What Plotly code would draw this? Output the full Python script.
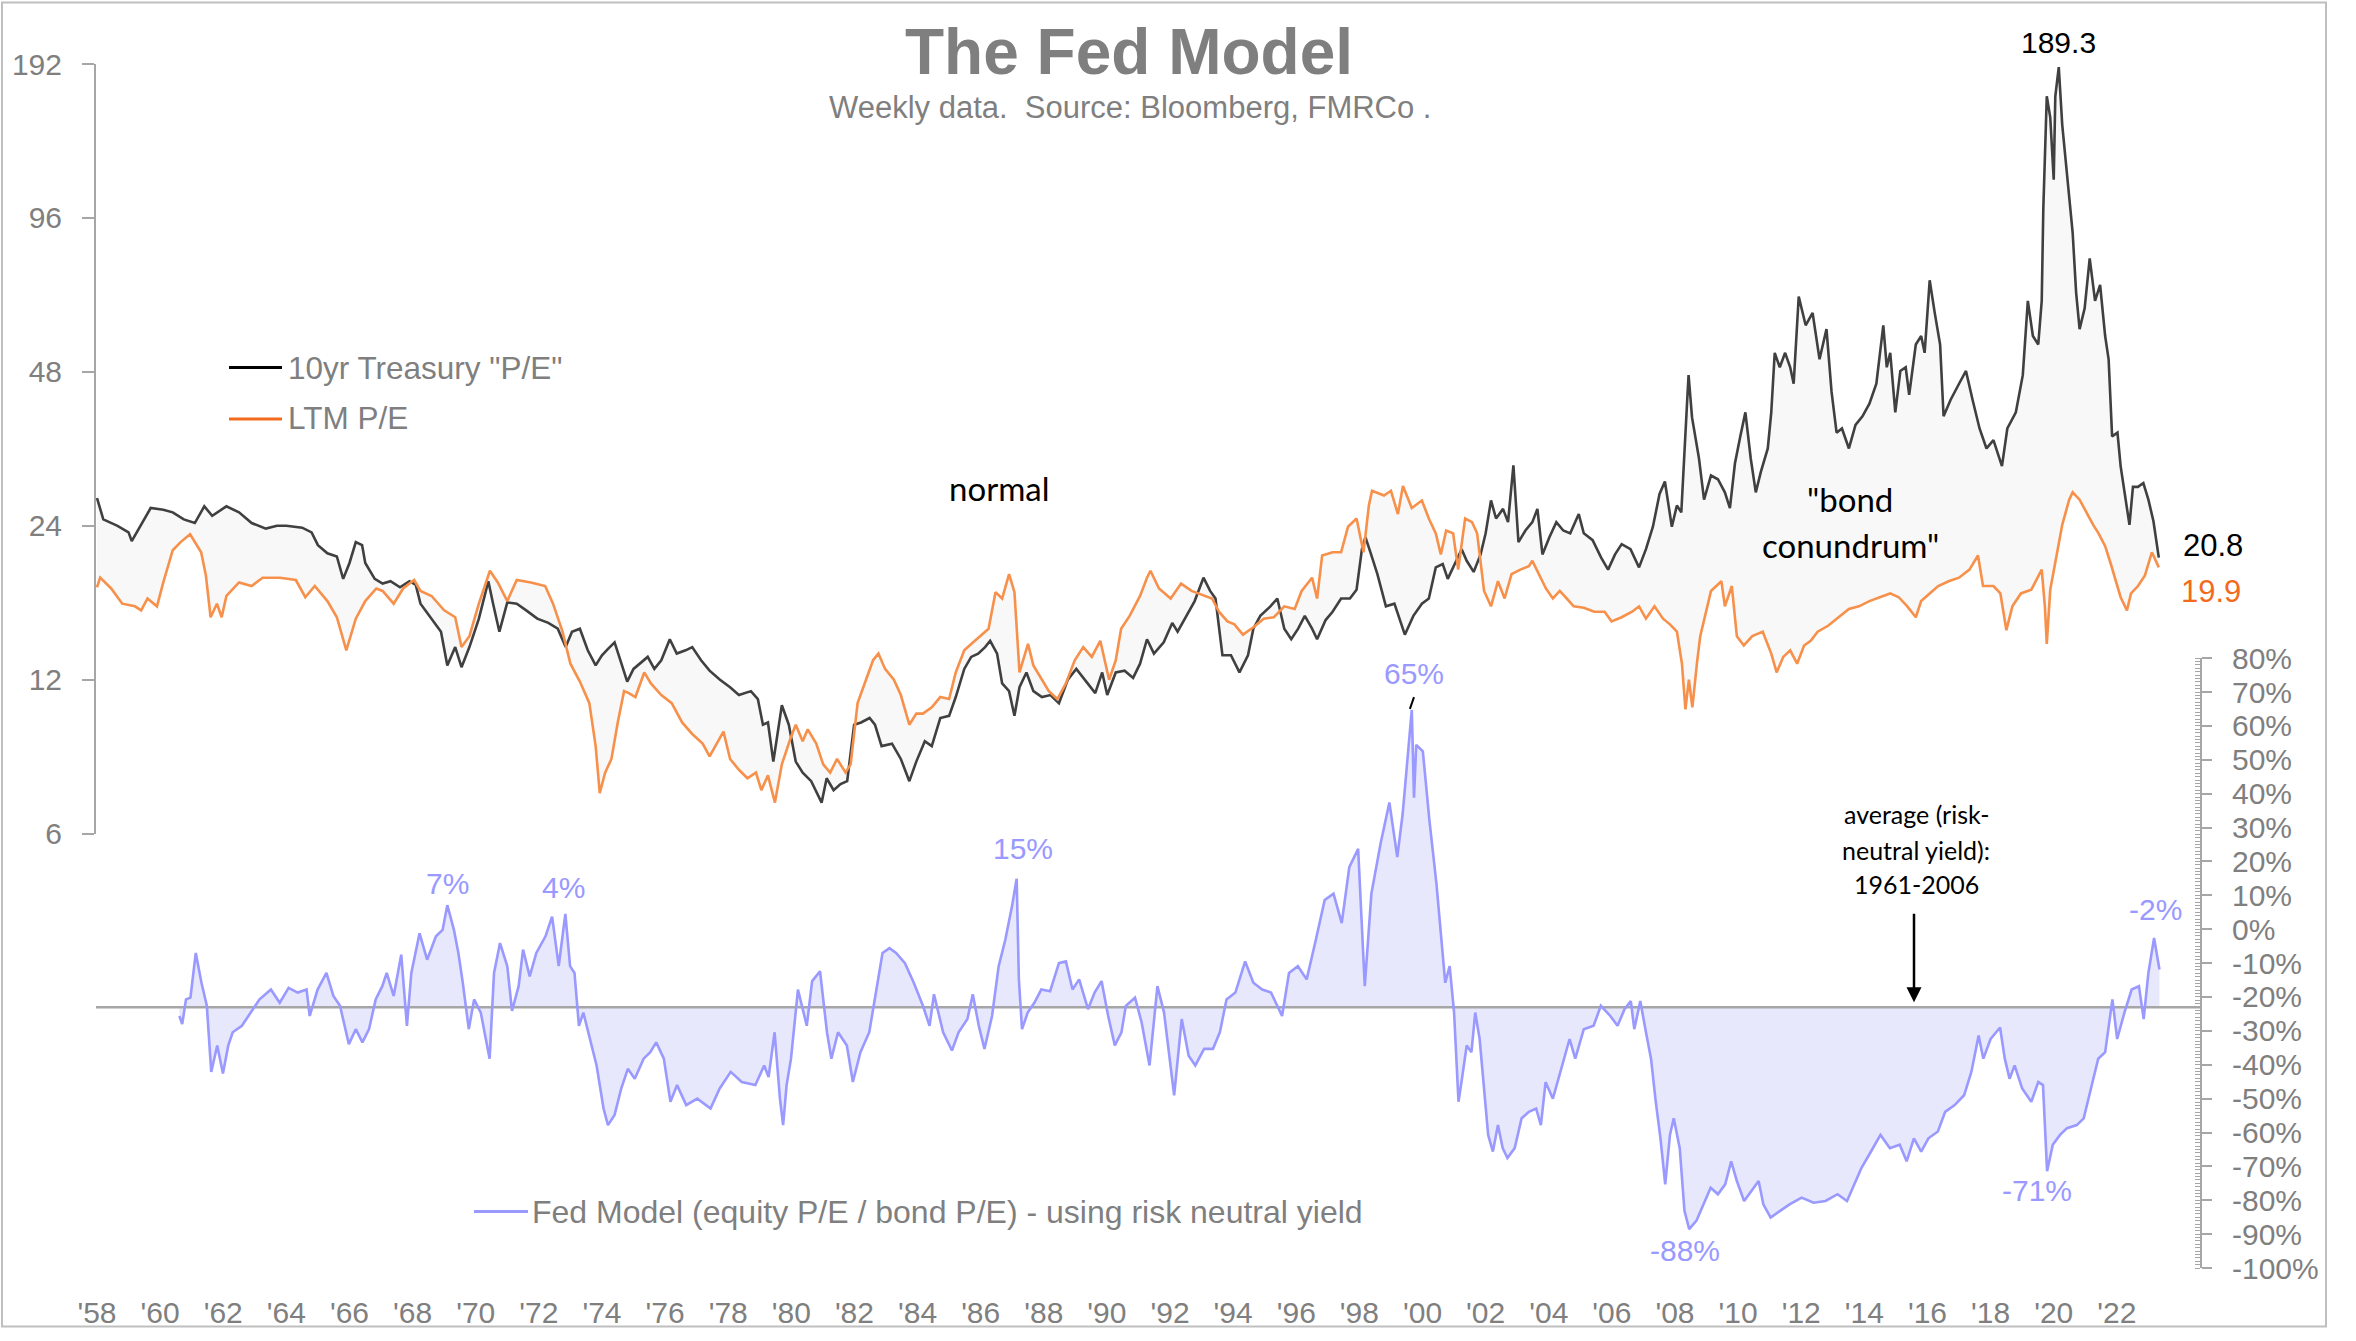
import math

import plotly.graph_objects as go

"""The Fed Model: 10yr Treasury "P/E" vs LTM P/E, plus the Fed Model spread"""

# 10yr Treasury "P/E" (1 / yield)
tsy_years = [
    1958.0, 1958.2, 1958.65, 1959.0, 1959.1, 1959.4, 1959.7, 1960.1, 1960.4, 1960.75,
    1961.1, 1961.4, 1961.65, 1962.1, 1962.5, 1962.9, 1963.35, 1963.7, 1964.0, 1964.5,
    1964.8, 1965.0, 1965.3, 1965.6, 1965.8, 1966.0, 1966.2, 1966.4, 1966.5, 1966.8,
    1967.05, 1967.3, 1967.6, 1967.9, 1968.1, 1968.25, 1968.6, 1968.9, 1969.1, 1969.35,
    1969.55, 1969.8, 1970.1, 1970.4, 1970.55, 1970.75, 1971.0, 1971.3, 1971.6, 1971.95,
    1972.3, 1972.6, 1972.85, 1973.05, 1973.3, 1973.55, 1973.8, 1974.0, 1974.2, 1974.4,
    1974.6, 1974.8, 1975.0, 1975.2, 1975.45, 1975.66, 1975.88, 1976.15, 1976.37, 1976.65,
    1976.86, 1977.14, 1977.41, 1977.74, 1978.06, 1978.34, 1978.72, 1978.94, 1979.1, 1979.26,
    1979.43, 1979.7, 1979.92, 1980.14, 1980.36, 1980.63, 1980.96, 1981.12, 1981.34, 1981.56,
    1981.77, 1981.99, 1982.21, 1982.48, 1982.65, 1982.86, 1983.19, 1983.47, 1983.74, 1983.96,
    1984.23, 1984.45, 1984.72, 1985.0, 1985.21, 1985.48, 1985.7, 1985.92, 1986.14, 1986.3,
    1986.52, 1986.68, 1986.9, 1987.07, 1987.23, 1987.45, 1987.67, 1987.94, 1988.21, 1988.48,
    1988.76, 1989.03, 1989.3, 1989.63, 1989.85, 1990.01, 1990.28, 1990.56, 1990.83, 1991.05,
    1991.27, 1991.49, 1991.8, 1992.07, 1992.24, 1992.51, 1992.78, 1993.06, 1993.27, 1993.44,
    1993.66, 1993.93, 1994.2, 1994.47, 1994.64, 1994.86, 1995.18, 1995.4, 1995.62, 1995.84,
    1996.06, 1996.27, 1996.5, 1996.66, 1996.93, 1997.15, 1997.42, 1997.7, 1997.91, 1998.08,
    1998.19, 1998.35, 1998.57, 1998.84, 1999.11, 1999.44, 1999.71, 1999.98, 2000.2, 2000.42,
    2000.64, 2000.8, 2000.97, 2001.24, 2001.4, 2001.62, 2001.84, 2002.0, 2002.17, 2002.33,
    2002.55, 2002.71, 2002.88, 2003.04, 2003.26, 2003.48, 2003.64, 2003.8, 2004.02, 2004.24,
    2004.46, 2004.68, 2004.95, 2005.11, 2005.39, 2005.66, 2005.88, 2006.1, 2006.31, 2006.59,
    2006.86, 2007.08, 2007.3, 2007.51, 2007.68, 2007.9, 2008.06, 2008.2, 2008.38, 2008.43,
    2008.54, 2008.65, 2008.76, 2008.92, 2009.14, 2009.36, 2009.58, 2009.74, 2009.9, 2010.07,
    2010.23, 2010.4, 2010.56, 2010.72, 2010.94, 2011.05, 2011.16, 2011.32, 2011.49, 2011.65,
    2011.76, 2011.92, 2012.14, 2012.36, 2012.58, 2012.8, 2012.96, 2013.12, 2013.29, 2013.51,
    2013.72, 2013.94, 2014.16, 2014.38, 2014.6, 2014.71, 2014.82, 2014.98, 2015.14, 2015.31,
    2015.42, 2015.63, 2015.8, 2015.91, 2016.07, 2016.23, 2016.4, 2016.51, 2016.73, 2017.0,
    2017.22, 2017.43, 2017.65, 2017.87, 2018.09, 2018.36, 2018.53, 2018.8, 2019.02, 2019.18,
    2019.34, 2019.51, 2019.62, 2019.67, 2019.78, 2019.89, 2020.0, 2020.05, 2020.16, 2020.27,
    2020.38, 2020.49, 2020.6, 2020.71, 2020.82, 2020.98, 2021.14, 2021.31, 2021.47, 2021.63,
    2021.74, 2021.85, 2022.02, 2022.12, 2022.29, 2022.4, 2022.51, 2022.67, 2022.84, 2023.0,
    2023.16, 2023.33,
]
tsy_pe = [
    27.2, 24.7, 24.0, 23.3, 22.4, 24.2, 26.0, 25.8, 25.5, 24.7,
    24.3, 26.2, 25.1, 26.2, 25.5, 24.3, 23.7, 24.0, 24.0, 23.8,
    23.3, 22.0, 21.2, 20.9, 18.9, 20.3, 22.3, 22.0, 20.3, 18.9,
    18.5, 18.7, 18.2, 18.7, 18.4, 16.9, 15.8, 14.9, 12.8, 13.9,
    12.7, 13.9, 15.8, 18.7, 16.9, 14.9, 17.0, 16.9, 16.4, 15.8,
    15.5, 15.1, 13.9, 14.9, 15.1, 13.7, 12.8, 13.4, 13.8, 14.2,
    13.0, 11.9, 12.6, 12.9, 13.3, 12.6, 13.1, 14.4, 13.5, 13.7,
    13.9, 13.1, 12.5, 12.0, 11.6, 11.2, 11.4, 11.0, 9.8, 9.9,
    8.3, 10.7, 9.8, 8.3, 7.9, 7.6, 6.9, 7.7, 7.3, 7.5,
    7.6, 9.8, 9.9, 10.1, 9.8, 8.9, 9.0, 8.4, 7.6, 8.3,
    9.1, 8.9, 10.1, 10.2, 11.1, 12.6, 13.3, 13.5, 13.9, 14.3,
    13.5, 11.8, 11.4, 10.2, 11.6, 12.4, 11.4, 11.1, 11.2, 10.8,
    12.0, 12.6, 12.0, 11.3, 12.4, 11.2, 12.4, 12.5, 12.1, 12.9,
    14.4, 13.5, 14.2, 15.5, 14.9, 16.0, 17.1, 19.0, 17.9, 17.3,
    13.4, 13.4, 12.4, 13.4, 15.1, 16.0, 16.7, 17.3, 15.1, 14.4,
    15.1, 16.0, 15.1, 14.4, 15.7, 16.3, 17.3, 17.3, 18.0, 21.6,
    22.8, 21.3, 19.3, 16.7, 16.9, 14.7, 16.0, 16.9, 17.3, 19.9,
    20.2, 18.9, 19.9, 21.6, 20.5, 19.5, 21.1, 23.2, 26.9, 24.8,
    25.9, 24.4, 31.5, 22.3, 23.5, 24.4, 25.9, 21.1, 22.8, 24.4,
    23.5, 23.2, 25.3, 23.2, 22.5, 20.8, 19.7, 21.1, 22.1, 21.6,
    19.9, 21.6, 23.9, 27.7, 29.3, 23.9, 26.3, 25.5, 41.5, 47.3,
    39.1, 35.3, 32.5, 27.0, 30.1, 29.6, 27.9, 26.0, 31.8, 35.9,
    40.0, 32.5, 27.9, 30.6, 34.0, 40.0, 52.3, 49.0, 52.3, 49.0,
    45.5, 67.4, 59.2, 62.6, 50.8, 58.2, 43.9, 36.5, 37.2, 34.0,
    37.8, 39.3, 41.6, 45.5, 59.2, 49.0, 52.3, 40.0, 48.2, 49.0,
    43.3, 54.3, 56.4, 52.3, 72.5, 62.6, 54.3, 39.3, 42.3, 45.5,
    48.2, 42.3, 37.2, 34.0, 35.3, 31.4, 37.2, 40.0, 47.3, 66.1,
    56.4, 54.3, 66.1, 100.0, 166.0, 151.0, 114.0, 166.0, 189.3, 146.0,
    124.0, 108.0, 89.8, 68.6, 58.2, 63.9, 80.0, 66.1, 71.0, 56.4,
    50.8, 35.9, 36.5, 31.4, 27.0, 24.1, 28.6, 28.6, 29.1, 27.0,
    24.5, 20.8,
]

# S&P 500 trailing-twelve-month P/E
ltm_years = [
    1958.0, 1958.1, 1958.45, 1958.8, 1959.2, 1959.4, 1959.6, 1959.9, 1960.1, 1960.4,
    1960.65, 1960.95, 1961.3, 1961.45, 1961.6, 1961.8, 1961.95, 1962.1, 1962.5, 1962.9,
    1963.25, 1963.8, 1964.3, 1964.6, 1964.9, 1965.3, 1965.6, 1965.9, 1966.2, 1966.5,
    1966.85, 1967.05, 1967.4, 1967.7, 1968.05, 1968.25, 1968.6, 1969.0, 1969.35, 1969.55,
    1969.8, 1970.1, 1970.45, 1970.7, 1971.0, 1971.3, 1971.75, 1972.2, 1972.45, 1972.75,
    1973.0, 1973.3, 1973.6, 1973.8, 1973.93, 1974.1, 1974.3, 1974.5, 1974.7, 1974.85,
    1975.06, 1975.34, 1975.55, 1975.88, 1976.21, 1976.54, 1976.86, 1977.19, 1977.41, 1977.63,
    1977.85, 1978.06, 1978.34, 1978.61, 1978.88, 1979.05, 1979.26, 1979.48, 1979.7, 1979.97,
    1980.14, 1980.36, 1980.52, 1980.79, 1981.01, 1981.23, 1981.45, 1981.72, 1981.88, 1982.1,
    1982.32, 1982.59, 1982.76, 1982.97, 1983.25, 1983.47, 1983.74, 1983.96, 1984.17, 1984.45,
    1984.72, 1985.0, 1985.21, 1985.48, 1985.7, 1985.97, 1986.25, 1986.47, 1986.68, 1986.9,
    1987.07, 1987.23, 1987.5, 1987.67, 1987.94, 1988.16, 1988.43, 1988.7, 1988.98, 1989.25,
    1989.52, 1989.79, 1990.07, 1990.28, 1990.45, 1990.72, 1991.05, 1991.27, 1991.38, 1991.65,
    1992.02, 1992.35, 1992.68, 1993.0, 1993.33, 1993.55, 1993.82, 1994.04, 1994.31, 1994.64,
    1994.97, 1995.29, 1995.62, 1995.95, 1996.17, 1996.5, 1996.66, 1996.82, 1997.15, 1997.42,
    1997.64, 1997.91, 1998.13, 1998.3, 1998.4, 1998.78, 1999.0, 1999.22, 1999.38, 1999.66,
    1999.98, 2000.2, 2000.42, 2000.58, 2000.75, 2000.97, 2001.13, 2001.35, 2001.57, 2001.73,
    2001.95, 2002.17, 2002.39, 2002.6, 2002.82, 2003.1, 2003.37, 2003.48, 2003.7, 2003.91,
    2004.13, 2004.35, 2004.57, 2004.79, 2005.11, 2005.44, 2005.77, 2005.99, 2006.31, 2006.64,
    2006.86, 2007.08, 2007.35, 2007.62, 2007.84, 2008.06, 2008.22, 2008.33, 2008.44, 2008.55,
    2008.7, 2008.8, 2009.14, 2009.47, 2009.58, 2009.8, 2009.96, 2010.18, 2010.45, 2010.78,
    2011.05, 2011.22, 2011.43, 2011.65, 2011.87, 2012.09, 2012.3, 2012.52, 2012.85, 2013.18,
    2013.51, 2013.83, 2014.16, 2014.49, 2014.82, 2015.09, 2015.36, 2015.63, 2015.8, 2016.07,
    2016.34, 2016.67, 2017.0, 2017.33, 2017.6, 2017.76, 2018.09, 2018.31, 2018.5, 2018.69,
    2018.96, 2019.29, 2019.62, 2019.72, 2019.78, 2019.89, 2020.05, 2020.27, 2020.49, 2020.6,
    2020.82, 2021.03, 2021.25, 2021.42, 2021.63, 2021.8, 2021.96, 2022.12, 2022.32, 2022.45,
    2022.67, 2022.89, 2023.11, 2023.33,
]
ltm_pe = [
    18.2, 19.0, 18.1, 16.9, 16.7, 16.4, 17.3, 16.7, 18.6, 21.5,
    22.3, 23.1, 21.3, 19.2, 15.9, 16.9, 15.9, 17.5, 18.6, 18.3,
    19.0, 19.0, 18.8, 17.4, 18.3, 17.1, 15.9, 13.7, 15.8, 17.1,
    18.1, 17.9, 16.9, 18.1, 18.8, 17.9, 17.5, 16.4, 15.9, 13.9,
    14.6, 16.9, 19.6, 18.6, 17.1, 18.8, 18.6, 18.3, 16.9, 14.9,
    12.9, 11.9, 10.8, 8.9, 7.2, 7.9, 8.4, 9.9, 11.4, 11.3,
    11.1, 12.4, 11.8, 11.2, 10.8, 9.9, 9.4, 9.0, 8.5, 9.0,
    9.5, 8.4, 8.0, 7.7, 7.9, 7.3, 7.8, 6.9, 8.2, 9.2,
    9.8, 9.1, 9.6, 9.0, 8.2, 7.9, 8.4, 7.9, 8.2, 10.8,
    11.8, 13.1, 13.5, 12.6, 12.0, 11.2, 9.8, 10.3, 10.3, 10.6,
    11.1, 11.0, 12.4, 13.7, 14.1, 14.6, 15.1, 17.8, 17.3, 19.3,
    17.8, 12.4, 14.1, 12.8, 12.0, 11.4, 11.0, 11.8, 13.1, 13.9,
    13.3, 14.3, 12.0, 13.1, 15.1, 16.0, 17.5, 19.0, 19.6, 18.1,
    17.3, 18.5, 17.9, 17.6, 17.3, 16.3, 15.6, 15.4, 14.7, 15.2,
    15.8, 15.9, 16.7, 16.5, 17.9, 19.0, 17.3, 21.0, 21.3, 21.3,
    23.9, 24.8, 21.3, 26.3, 28.1, 27.5, 28.1, 25.3, 28.7, 26.0,
    26.9, 24.8, 23.2, 21.1, 23.5, 23.2, 19.7, 24.8, 24.4, 23.2,
    17.9, 16.7, 18.7, 17.3, 19.3, 19.7, 20.0, 20.5, 19.3, 18.1,
    17.3, 17.9, 17.3, 16.7, 16.6, 16.3, 16.3, 15.6, 15.9, 16.3,
    16.7, 15.8, 16.7, 15.8, 15.4, 14.9, 12.9, 10.5, 12.0, 10.6,
    13.0, 14.6, 17.9, 18.7, 16.7, 18.3, 14.6, 14.0, 14.6, 14.9,
    13.5, 12.4, 13.3, 13.7, 12.9, 14.0, 14.3, 14.9, 15.3, 15.9,
    16.5, 16.7, 17.1, 17.4, 17.7, 17.4, 16.7, 15.9, 17.1, 17.7,
    18.3, 18.7, 19.0, 19.7, 21.0, 18.3, 18.3, 17.7, 15.0, 16.7,
    17.7, 18.0, 19.7, 16.7, 14.1, 18.0, 20.4, 24.1, 27.0, 27.9,
    27.0, 25.5, 24.1, 23.2, 21.9, 20.3, 18.7, 17.4, 16.4, 17.7,
    18.3, 19.2, 21.3, 19.9,
]

# Fed Model (equity P/E / bond P/E) - using risk neutral yield, in %
fed_years = [
    1960.61, 1960.7, 1960.82, 1960.96, 1961.13, 1961.31, 1961.48, 1961.62, 1961.81, 1961.99,
    1962.16, 1962.3, 1962.59, 1962.87, 1963.15, 1963.51, 1963.79, 1964.07, 1964.36, 1964.64,
    1964.74, 1964.99, 1965.27, 1965.49, 1965.7, 1965.98, 1966.2, 1966.41, 1966.62, 1966.83,
    1967.04, 1967.18, 1967.4, 1967.64, 1967.82, 1967.96, 1968.22, 1968.46, 1968.74, 1968.95,
    1969.1, 1969.31, 1969.45, 1969.59, 1969.78, 1969.95, 1970.16, 1970.44, 1970.58, 1970.77,
    1971.0, 1971.15, 1971.36, 1971.5, 1971.71, 1971.92, 1972.21, 1972.42, 1972.63, 1972.84,
    1972.99, 1973.13, 1973.27, 1973.41, 1973.62, 1973.83, 1974.05, 1974.19, 1974.4, 1974.61,
    1974.82, 1975.04, 1975.32, 1975.53, 1975.72, 1975.96, 1976.17, 1976.38, 1976.67, 1977.02,
    1977.44, 1977.73, 1978.08, 1978.43, 1978.86, 1979.14, 1979.28, 1979.47, 1979.64, 1979.74,
    1979.85, 1979.99, 1980.21, 1980.49, 1980.66, 1980.91, 1981.13, 1981.27, 1981.48, 1981.76,
    1981.95, 1982.19, 1982.47, 1982.68, 1982.89, 1983.11, 1983.32, 1983.6, 1983.88, 1984.17,
    1984.38, 1984.52, 1984.81, 1985.09, 1985.3, 1985.58, 1985.75, 1985.94, 1986.12, 1986.36,
    1986.57, 1986.78, 1986.99, 1987.14, 1987.21, 1987.31, 1987.49, 1987.7, 1987.92, 1988.2,
    1988.48, 1988.7, 1988.91, 1989.12, 1989.4, 1989.61, 1989.83, 1990.04, 1990.25, 1990.46,
    1990.6, 1990.89, 1991.1, 1991.35, 1991.6, 1991.81, 1992.13, 1992.37, 1992.59, 1992.8,
    1993.08, 1993.36, 1993.58, 1993.79, 1994.07, 1994.38, 1994.64, 1994.92, 1995.2, 1995.55,
    1995.77, 1996.05, 1996.33, 1996.62, 1996.9, 1997.18, 1997.44, 1997.68, 1997.96, 1998.17,
    1998.38, 1998.67, 1998.95, 1999.2, 1999.37, 1999.66, 1999.73, 1999.8, 2000.01, 2000.22,
    2000.44, 2000.72, 2000.86, 2001.0, 2001.14, 2001.25, 2001.4, 2001.55, 2001.67, 2001.81,
    2001.93, 2002.08, 2002.23, 2002.39, 2002.54, 2002.69, 2002.92, 2003.14, 2003.37, 2003.6,
    2003.75, 2003.9, 2004.13, 2004.36, 2004.66, 2004.84, 2005.11, 2005.42, 2005.65, 2005.95,
    2006.18, 2006.4, 2006.6, 2006.71, 2006.9, 2007.08, 2007.24, 2007.39, 2007.54, 2007.69,
    2007.84, 2007.96, 2008.15, 2008.3, 2008.45, 2008.68, 2008.9, 2009.13, 2009.36, 2009.59,
    2009.78, 2009.96, 2010.19, 2010.42, 2010.65, 2010.8, 2011.03, 2011.33, 2011.63, 2012.01,
    2012.39, 2012.77, 2013.15, 2013.45, 2013.68, 2013.91, 2014.21, 2014.51, 2014.81, 2015.12,
    2015.34, 2015.57, 2015.8, 2016.03, 2016.33, 2016.56, 2016.86, 2017.16, 2017.39, 2017.62,
    2017.77, 2018.0, 2018.3, 2018.45, 2018.6, 2018.76, 2019.0, 2019.29, 2019.51, 2019.66,
    2019.79, 2019.97, 2020.2, 2020.42, 2020.73, 2020.95, 2021.18, 2021.41, 2021.63, 2021.86,
    2022.01, 2022.24, 2022.47, 2022.7, 2022.85, 2023.0, 2023.18, 2023.35,
]
fed_model = [
    -25.6, -28.0, -20.7, -20.2, -7.0, -15.8, -22.6, -42.1, -34.3, -42.6,
    -34.3, -30.4, -28.5, -24.6, -20.7, -17.8, -21.7, -17.3, -18.7, -17.8,
    -25.6, -17.8, -12.9, -19.7, -22.6, -33.9, -29.5, -33.4, -29.5, -20.7,
    -16.8, -12.9, -19.7, -7.5, -28.5, -12.9, -1.2, -9.0, -2.1, -0.2,
    7.1, -0.2, -7.0, -15.8, -29.5, -20.7, -24.6, -38.2, -12.9, -4.1,
    -10.9, -24.1, -16.8, -6.0, -13.9, -7.0, -2.1, 3.7, -10.9, 4.5,
    -10.9, -12.9, -28.5, -24.6, -32.4, -40.2, -52.9, -57.8, -54.8, -47.0,
    -41.2, -44.1, -38.2, -36.3, -33.4, -38.2, -50.9, -46.0, -51.9, -50.0,
    -52.9, -47.0, -42.1, -45.1, -46.0, -40.2, -43.6, -30.4, -50.0, -57.8,
    -46.0, -38.2, -17.8, -28.5, -15.3, -12.4, -30.4, -38.2, -30.4, -34.3,
    -45.1, -36.3, -30.4, -18.7, -7.0, -5.6, -7.0, -10.0, -15.8, -22.6,
    -28.5, -19.2, -30.4, -35.8, -30.4, -26.5, -19.2, -28.5, -35.3, -25.6,
    -10.9, -3.1, 6.6, 14.9, -14.8, -29.5, -24.6, -21.7, -17.8, -18.3,
    -10.0, -9.5, -17.8, -14.8, -23.6, -18.7, -15.3, -25.6, -34.3, -30.4,
    -22.6, -20.2, -27.5, -40.2, -16.8, -24.6, -49.0, -26.5, -37.3, -40.2,
    -35.3, -35.3, -30.4, -20.7, -18.7, -9.5, -15.8, -17.8, -18.7, -25.6,
    -12.9, -10.9, -14.8, -3.1, 8.6, 10.5, 1.8, 18.3, 23.7, -16.8,
    10.5, 25.2, 37.4, 21.3, 34.0, 64.7, 38.8, 54.4, 52.5, 32.0,
    13.5, -15.8, -10.9, -24.6, -50.9, -44.1, -34.3, -36.3, -24.6, -32.4,
    -44.1, -60.7, -65.6, -57.8, -64.6, -67.5, -64.6, -55.8, -53.9, -52.9,
    -57.8, -45.1, -50.0, -42.1, -32.4, -38.2, -29.5, -28.5, -22.6, -25.6,
    -28.5, -23.6, -21.2, -29.5, -21.2, -30.4, -38.2, -50.9, -61.7, -75.3,
    -60.7, -55.8, -64.6, -83.1, -88.5, -86.0, -81.2, -76.3, -78.2, -75.3,
    -68.5, -74.3, -80.2, -77.3, -74.3, -81.2, -85.1, -83.1, -81.2, -79.2,
    -80.7, -80.2, -78.2, -80.2, -75.3, -70.4, -65.6, -60.7, -64.6, -63.6,
    -68.5, -61.7, -65.6, -61.7, -59.7, -53.9, -51.9, -49.0, -42.1, -31.4,
    -38.2, -32.4, -29.0, -38.2, -44.1, -40.2, -47.0, -50.9, -45.1, -46.0,
    -71.4, -63.6, -60.7, -58.7, -57.8, -55.8, -47.0, -38.2, -36.3, -20.7,
    -32.4, -24.6, -17.8, -16.8, -26.5, -12.9, -2.6, -11.9,
]
fed_average = -23.0  # average (risk-neutral yield): 1961-2006

x_ticks = list(range(1958, 2023, 2))
x_labels = ["'%02d" % (y % 100) for y in x_ticks]
pe_ticks = [6, 12, 24, 48, 96, 192]
fed_ticks = list(range(-100, 81, 10))

# labelled extremes of the Fed Model: (year, text, pixel offsets)
fed_callouts = [
    (1969.1, "7%", 0, 22),
    (1972.84, "4%", -2, 26),
    (1987.14, "15%", 6, 30),
    (1999.66, "65%", 2, 36),
    (2008.45, "-88%", -4, -21),
    (2019.79, "-71%", -10, -19),
    (2023.18, "-2%", 1, 29),
]

GREY = "#7f7f7f"
AXIS = "#a6a6a6"
BLACK = "#404040"
ORANGE = "#f7904a"
PURPLE = "#9999ff"
ARIAL = "Liberation Sans, Arial, sans-serif"
CALIBRI = "Lato, Carlito, Calibri, sans-serif"

# plot area in pixels
L, T, R, B = 96, 64, 2200, 1290


def px(x):
    return (x - L) / (R - L)


def py(y):
    return (B - y) / (B - T)


def year_at(x):
    return 1958 + (x - 97) / 31.56


fig = go.Figure()

# grey band between the two P/E lines
fig.add_trace(go.Scatter(x=tsy_years, y=tsy_pe, mode="lines", line=dict(width=0),
                         showlegend=False, hoverinfo="skip"))
fig.add_trace(go.Scatter(x=ltm_years, y=ltm_pe, mode="lines", line=dict(width=0),
                         fill="tonexty", fillcolor="#f8f8f8", showlegend=False,
                         hoverinfo="skip"))
fig.add_trace(go.Scatter(x=tsy_years, y=tsy_pe, mode="lines", name='10yr Treasury "P/E"',
                         line=dict(color=BLACK, width=2.6), showlegend=False))
fig.add_trace(go.Scatter(x=ltm_years, y=ltm_pe, mode="lines", name="LTM P/E",
                         line=dict(color=ORANGE, width=2.6), showlegend=False))

# Fed Model, shaded against its 1961-2006 average
fig.add_trace(go.Scatter(x=[fed_years[0], fed_years[-1]], y=[fed_average] * 2,
                         yaxis="y2", mode="lines", line=dict(width=0),
                         showlegend=False, hoverinfo="skip"))
fig.add_trace(go.Scatter(x=fed_years, y=fed_model, yaxis="y2", mode="lines",
                         line=dict(width=0), fill="tonexty", fillcolor="#e8e8fc",
                         showlegend=False, hoverinfo="skip"))
fig.add_trace(go.Scatter(x=[year_at(L), year_at(R)], y=[fed_average] * 2, yaxis="y2",
                         mode="lines", line=dict(color=AXIS, width=2.5),
                         showlegend=False, hoverinfo="skip"))
fig.add_trace(go.Scatter(x=fed_years, y=fed_model, yaxis="y2", mode="lines",
                         name="Fed Model", line=dict(color=PURPLE, width=2.6),
                         showlegend=False))

tick_font = dict(family=ARIAL, size=30, color=GREY)
fig.update_layout(
    width=2356,
    height=1341,
    margin=dict(l=L, r=2356 - R, t=T, b=1341 - B),
    paper_bgcolor="white",
    plot_bgcolor="rgba(0,0,0,0)",
    xaxis=dict(
        range=[year_at(L), year_at(R)], anchor="free", position=0,
        showline=False, showgrid=False, zeroline=False,
        tickmode="array", tickvals=x_ticks, ticktext=x_labels,
        ticks="outside", ticklen=6, tickcolor="rgba(0,0,0,0)",
        tickfont=tick_font,
    ),
    yaxis=dict(
        type="log", range=[math.log10(6), math.log10(192)],
        domain=[py(840), 1.0], anchor="x", side="left",
        showline=True, linecolor=AXIS, linewidth=2,
        showgrid=False, zeroline=False,
        tickmode="array", tickvals=pe_ticks, ticktext=[str(v) for v in pe_ticks],
        ticks="outside", ticklen=12, tickwidth=2, tickcolor=AXIS,
        ticklabelstandoff=14, tickfont=tick_font,
    ),
    yaxis3=dict(
        type="log", range=[math.log10(6), math.log10(192)],
        overlaying="y", anchor="x", side="left",
        showline=False, showgrid=False, zeroline=False, showticklabels=False,
        tickmode="array", tickvals=pe_ticks,
        ticks="inside", ticklen=7, tickwidth=2, tickcolor=AXIS,
    ),
    yaxis2=dict(
        range=[-100, 80], domain=[py(1278), py(663)], anchor="x", side="right",
        showline=True, linecolor=AXIS, linewidth=2,
        showgrid=False, zeroline=False,
        tickmode="array", tickvals=fed_ticks, ticktext=[f"{v}%" for v in fed_ticks],
        ticks="outside", ticklen=10, tickwidth=2, tickcolor=AXIS,
        minor=dict(tickmode="linear", tick0=0, dtick=1, ticks="inside",
                   ticklen=5, tickwidth=1, tickcolor=AXIS),
        ticklabelstandoff=14, tickfont=tick_font,
    ),
    yaxis4=dict(
        range=[-100, 80], overlaying="y2", anchor="x", side="right",
        showline=False, showgrid=False, zeroline=False, showticklabels=False,
        tickmode="array", tickvals=fed_ticks,
        ticks="inside", ticklen=8, tickwidth=2, tickcolor=AXIS,
    ),
)

shapes = [
    # outer frame
    dict(type="rect", xref="paper", yref="paper", x0=px(2), x1=px(2326), y0=py(1337), y1=py(2),
         line=dict(color="#bfbfbf", width=2), layer="below"),
    # legend keys
    dict(type="line", xref="paper", yref="paper", x0=px(229), x1=px(282), y0=py(370), y1=py(370),
         line=dict(color="#000000", width=3)),
    dict(type="line", xref="paper", yref="paper", x0=px(229), x1=px(282), y0=py(422), y1=py(422),
         line=dict(color="#f26b1d", width=3)),
    dict(type="line", xref="paper", yref="paper", x0=px(474), x1=px(528), y0=py(1221), y1=py(1221),
         line=dict(color=PURPLE, width=3)),
    # leader for the 65% peak
    dict(type="line", xref="x", yref="y2", x0=1999.6, x1=1999.73, y0=65.0, y1=68.5,
         line=dict(color="black", width=2)),
]
fig.update_layout(shapes=shapes)

annotations = [
    dict(text="<b>The Fed Model</b>", x=px(1129), y=py(52), font=dict(family=ARIAL, size=64, color=GREY)),
    dict(text="Weekly data.\u00a0 Source: Bloomberg, FMRCo .", x=px(1130), y=py(108),
         font=dict(family=ARIAL, size=31, color=GREY)),
    dict(text='10yr Treasury "P/E"', x=px(286), y=py(371), xanchor="left",
         font=dict(family=ARIAL, size=31.5, color=GREY)),
    dict(text="LTM P/E", x=px(286), y=py(421), xanchor="left",
         font=dict(family=ARIAL, size=31.5, color=GREY)),
    dict(text="Fed Model (equity P/E / bond P/E) - using risk neutral yield", x=px(530), y=py(1221),
         xanchor="left", font=dict(family=ARIAL, size=32, color=GREY)),
    dict(text="normal", x=px(999), y=py(491), font=dict(family=CALIBRI, size=33, color="black")),
    dict(text='"bond', x=px(1850), y=py(503), font=dict(family=CALIBRI, size=33, color="black")),
    dict(text='conundrum"', x=px(1850), y=py(549), font=dict(family=CALIBRI, size=33, color="black")),
    dict(text="average (risk-", x=px(1916), y=py(820), font=dict(family=CALIBRI, size=25, color="black")),
    dict(text="neutral yield):", x=px(1916), y=py(856), font=dict(family=CALIBRI, size=25, color="black")),
    dict(text="1961-2006", x=px(1916), y=py(891), font=dict(family=CALIBRI, size=25, color="black")),
]
for a in annotations:
    a.update(xref="paper", yref="paper", showarrow=False)
    a.setdefault("xanchor", "center")
    a.setdefault("yanchor", "middle")

# end values and the peak of the Treasury "P/E"
peak = tsy_pe.index(max(tsy_pe))
annotations += [
    dict(text=f"{tsy_pe[peak]:.1f}", x=tsy_years[peak], y=math.log10(tsy_pe[peak]), yshift=25,
         font=dict(family=ARIAL, size=30, color="black")),
    dict(text=f"{tsy_pe[-1]:.1f}", x=tsy_years[-1], y=math.log10(tsy_pe[-1]), xanchor="left",
         xshift=22, yshift=12, font=dict(family=ARIAL, size=31, color="black")),
    dict(text=f"{ltm_pe[-1]:.1f}", x=ltm_years[-1], y=math.log10(ltm_pe[-1]), xanchor="left",
         xshift=20, yshift=-24, font=dict(family=ARIAL, size=31, color="#f26b1d")),
]
for a in annotations[-3:]:
    a.update(xref="x", yref="y", showarrow=False, yanchor="middle")
    a.setdefault("xanchor", "center")

for year, text, dx, dy in fed_callouts:
    i = min(range(len(fed_years)), key=lambda k: abs(fed_years[k] - year))
    annotations.append(dict(text=text, x=fed_years[i], y=fed_model[i], xref="x", yref="y2",
                            xshift=dx, yshift=dy, showarrow=False, xanchor="center",
                            yanchor="middle", font=dict(family=ARIAL, size=30, color=PURPLE)))

# arrow pointing at the average line
annotations.append(dict(text="", x=year_at(1914), y=fed_average, xref="x", yref="y2",
                        showarrow=True, ax=0, ay=-95, arrowhead=2, arrowsize=1.2,
                        arrowwidth=2.5, arrowcolor="black", standoff=5))

fig.update_layout(annotations=annotations)

# the page's default body margin would push the figure off its pixel grid
fig.write_html(
    "out.html",
    config={"displayModeBar": False},
    post_script="document.body.style.margin = '0px';",
)
